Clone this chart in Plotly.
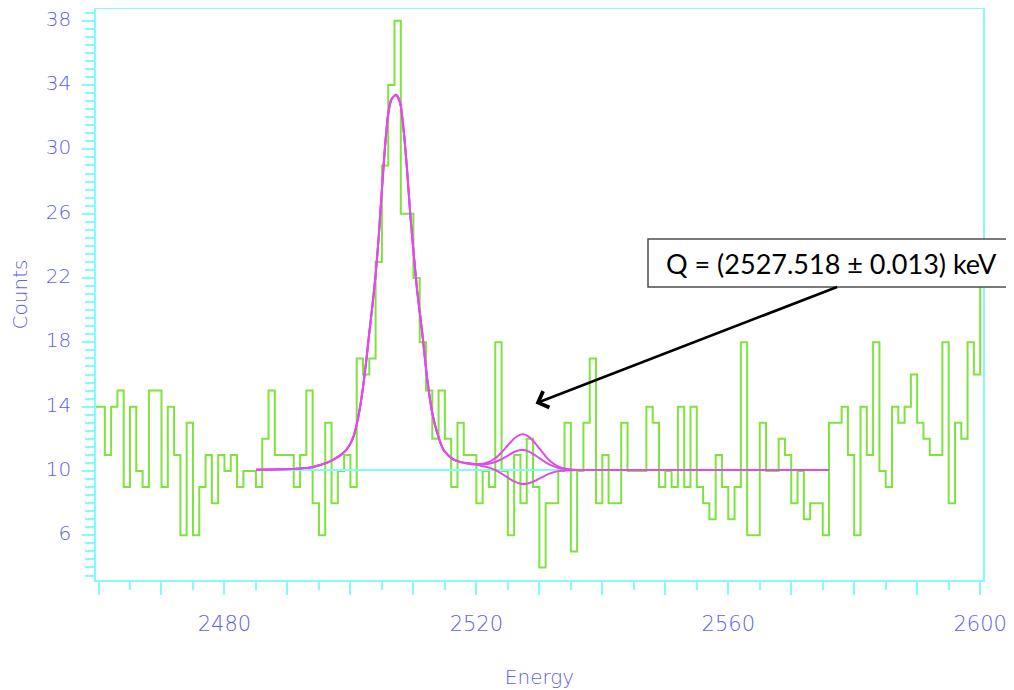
import plotly.graph_objects as go

# ---- data ----
energy_bins = list(range(2459, 2601))  # left bin edges, 1 keV bins
counts = [14,
          14, 11, 14, 15, 9, 14, 10, 9, 15, 15,
          9, 14, 11, 6, 13, 6, 9, 11, 8, 11,
          10, 11, 9, 10, 10, 9, 12, 15, 11, 11,
          11, 9, 11, 15, 8, 6, 13, 8, 10, 11,
          9, 17, 16, 17, 23, 29, 34, 38, 26, 26,
          22, 18, 15, 12, 15, 12, 9, 13, 11, 11,
          8, 10, 9, 18, 10, 6, 11, 8, 12, 9,
          4, 8, 8, 10, 13, 5, 10, 13, 17, 8,
          11, 8, 8, 13, 10, 10, 10, 14, 13, 9,
          10, 9, 14, 9, 14, 9, 8, 7, 11, 9,
          7, 9, 18, 6, 6, 13, 10, 10, 12, 11,
          8, 10, 7, 8, 8, 6, 13, 13, 14, 11,
          6, 14, 11, 18, 10, 9, 14, 13, 14, 16,
          13, 12, 11, 11, 18, 8, 13, 12, 18, 16,
          23]

fit_energy = [2485, 2489, 2492, 2494, 2495.2, 2496.5, 2497.5, 2498.5, 2499.3, 2500,
              2500.5, 2501, 2501.5, 2502, 2502.5, 2503, 2503.5, 2504, 2504.5, 2505,
              2505.5, 2506, 2506.5, 2507.25, 2507.9, 2508.45, 2509, 2509.5, 2510.05, 2510.6,
              2511.4, 2512.2, 2513, 2513.8, 2514.8, 2515.6, 2516.4, 2517.5, 2518.5, 2519,
              2520, 2521, 2522, 2523, 2524, 2525, 2526, 2527, 2527.4, 2528,
              2529, 2530, 2531, 2532, 2533, 2534, 2535, 2536, 2576]
fit_mid = [10.08, 10.1, 10.15, 10.24, 10.37, 10.55, 10.75, 11.0, 11.3, 11.7,
           12.15, 12.9, 13.9, 15.2, 16.8, 18.6, 20.3, 22.2, 24.6, 27.5,
           30.2, 32.2, 33.1, 33.4, 32.9, 31.2, 28.7, 26.0, 23.5, 21.2,
           18.6, 15.7, 13.6, 12.35, 11.3, 10.95, 10.7, 10.55, 10.48, 10.46,
           10.42, 10.40, 10.45, 10.56, 10.73, 10.96, 11.18, 11.30, 11.30, 11.26,
           11.07, 10.80, 10.54, 10.33, 10.19, 10.12, 10.08, 10.06, 10.06]
fit_upper = [10.08, 10.1, 10.15, 10.24, 10.37, 10.55, 10.75, 11.0, 11.3, 11.7,
             12.15, 12.9, 13.9, 15.2, 16.8, 18.6, 20.3, 22.2, 24.6, 27.5,
             30.2, 32.2, 33.1, 33.4, 32.9, 31.2, 28.7, 26.0, 23.5, 21.2,
             18.6, 15.7, 13.6, 12.35, 11.3, 10.95, 10.7, 10.55, 10.48, 10.46,
             10.44, 10.45, 10.56, 10.79, 11.15, 11.60, 12.02, 12.26, 12.28, 12.21,
             11.88, 11.40, 10.91, 10.53, 10.29, 10.15, 10.09, 10.06, 10.06]
fit_lower = [10.08, 10.1, 10.15, 10.24, 10.37, 10.55, 10.75, 11.0, 11.3, 11.7,
             12.15, 12.9, 13.9, 15.2, 16.8, 18.6, 20.3, 22.2, 24.6, 27.5,
             30.2, 32.2, 33.1, 33.4, 32.9, 31.2, 28.7, 26.0, 23.5, 21.2,
             18.6, 15.7, 13.6, 12.35, 11.3, 10.95, 10.7, 10.55, 10.48, 10.44,
             10.38, 10.30, 10.21, 10.06, 9.84, 9.59, 9.35, 9.21, 9.19, 9.21,
             9.33, 9.52, 9.73, 9.89, 9.99, 10.03, 10.05, 10.06, 10.06]
background_energy = [2485, 2576]
background_level = [10.06, 10.06]

x_tickvals = [2460, 2470, 2480, 2490, 2500, 2510, 2520, 2530, 2540, 2550, 2560, 2570, 2580, 2590, 2600]
x_ticktext = ["", "", "2480", "", "", "", "2520", "", "", "", "2560", "", "", "", "2600"]
y_tickvals = [6, 10, 14, 18, 22, 26, 30, 34, 38]
y_ticktext = ["6", "10", "14", "18", "22", "26", "30", "34", "38"]

q_text = "Q = (2527.518 ± 0.013) keV"

# ---- style ----
AXIS = "#84fbfb"
LABEL = "#6060f0"
GREEN = "#7fe33f"
PINK = "#e04ce6"
FONT = "DejaVu Sans"

# The page body has an 8 px margin, so the figure is drawn 8 px in from the window edge.
W, H = 1006, 682
L, R, T, B = 88, 31, 1, 110
PW, PH = W - L - R, H - T - B


def px(xw):  # window x pixel -> paper x
    return (xw - 8 - L) / PW


def py(yw):  # window y pixel -> paper y
    return (H - B - (yw - 8)) / PH


fig = go.Figure()
fig.add_trace(go.Scatter(x=energy_bins, y=counts, mode="lines", line_shape="hv",
                         line=dict(color=GREEN, width=2), hoverinfo="x+y", showlegend=False))
fig.add_trace(go.Scatter(x=background_energy, y=background_level, mode="lines",
                         line=dict(color=AXIS, width=2), showlegend=False))
for ys in (fit_upper, fit_lower, fit_mid):
    fig.add_trace(go.Scatter(x=fit_energy, y=ys, mode="lines", line_shape="spline",
                             line=dict(color=PINK, width=2, smoothing=0.6), showlegend=False))

fig.update_layout(
    width=W, height=H,
    margin=dict(l=L, r=R, t=T, b=B, autoexpand=False),
    paper_bgcolor="white", plot_bgcolor="white",
    showlegend=False,
)
fig.update_xaxes(
    range=[2459.6, 2600.45], showgrid=False, zeroline=False, automargin=False,
    showline=True, linecolor=AXIS, linewidth=1.5, mirror=True,
    tickmode="array", tickvals=x_tickvals, ticktext=x_ticktext,
    ticks="outside", ticklen=13, tickcolor=AXIS, tickwidth=1.5,
    minor=dict(dtick=5, tick0=2460, ticks="outside", ticklen=8, tickcolor=AXIS, tickwidth=1.5, showgrid=False),
    tickfont=dict(family=FONT, size=21, color=LABEL, weight=200),
    ticklabelstandoff=11,
    title=dict(text="Energy", font=dict(family=FONT, size=20, color=LABEL, weight=200), standoff=35),
)
fig.update_yaxes(
    range=[3.22, 38.73], showgrid=False, zeroline=False, automargin=False,
    showline=True, linecolor=AXIS, linewidth=1.5, mirror=True,
    tickmode="array", tickvals=y_tickvals, ticktext=y_ticktext,
    ticks="outside", ticklen=12, tickcolor=AXIS, tickwidth=1.5,
    minor=dict(dtick=0.5, tick0=0, ticks="outside", ticklen=9, tickcolor=AXIS, tickwidth=1.5, showgrid=False),
    tickfont=dict(family=FONT, size=20, color=LABEL, weight=200),
    ticklabelstandoff=7, ticklabelshift=-2, ticklabeloverflow="allow",
    title=dict(text="Counts", font=dict(family=FONT, size=20, color=LABEL, weight=200), standoff=15),
)

# annotation box with the Q value
fig.add_shape(type="rect", xref="paper", yref="paper",
              x0=px(648), x1=px(1040), y0=py(287), y1=py(239),
              fillcolor="white", line=dict(color="#4d4d4d", width=1.5), layer="above")
fig.add_annotation(xref="paper", yref="paper", x=px(831), y=py(263),
                   text=q_text, showarrow=False, xanchor="center", yanchor="middle",
                   font=dict(family="Lato", size=27, color="black"))
# arrow pointing to the small peak
fig.add_annotation(x=2529.4, y=14.2, xref="x", yref="y", text="",
                   showarrow=True, ax=303, ay=-117, axref="pixel", ayref="pixel",
                   arrowhead=4, arrowsize=1.3, arrowwidth=2.6, arrowcolor="black")

fig.write_html("out.html")
